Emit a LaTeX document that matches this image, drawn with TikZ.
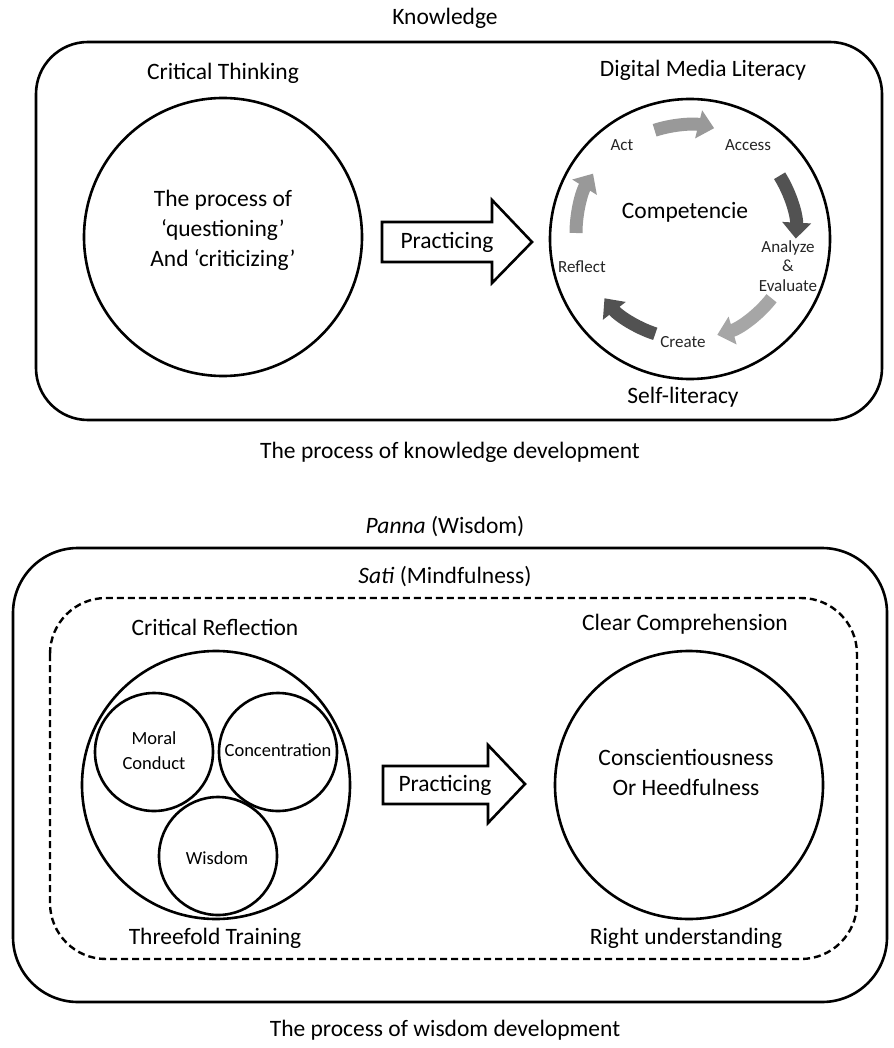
\documentclass[tikz,border=0pt]{standalone}
\usepackage{fontspec}
\setmainfont{Carlito}
\usetikzlibrary{arrows.meta,calc}
\begin{document}
\begin{tikzpicture}[x=1pt,y=-1pt,
  boxline/.style={line width=2.6pt},
  ring/.style={draw, line width=2.6pt, circle, inner sep=0pt, minimum size=#1},
  lbl/.style={font=\fontsize{23.5}{30}\selectfont, align=center, inner sep=0pt},
  smalllbl/.style={font=\fontsize{18.5}{25}\selectfont, align=center, inner sep=0pt},
  cyclbl/.style={font=\fontsize{17}{19.5}\selectfont, align=center, inner sep=0pt, text=black!85},
  flow/.style={line width=13pt, -{Triangle[width=28pt,length=16pt]}},
  bigarrow/.style={draw, line width=2.6pt, fill=white, line join=miter}
]
% canvas
\fill[white] (0,0) rectangle (893,1048);

% ---------------- knowledge development ----------------
\node[lbl] (know) at (445,18) {Knowledge};
\draw[boxline, rounded corners=52pt] (36,42) rectangle (882,420);

\node[lbl] (ctitle) at (223,73) {Critical Thinking};
\node[ring=278pt] (ct) at (223,237) {};
\node[lbl] (cttext) at (223,230) {The process of\\‘questioning’\\And ‘criticizing’};

\draw[bigarrow] (382,222) -- (492,222) -- (492,200) -- (532,242) -- (492,283) -- (492,262) -- (382,262) -- cycle;
\node[lbl] (prac1) at (447,242) {Practicing};

\node[lbl] (dtitle) at (703,70) {Digital Media Literacy};
\node[ring=280pt] (dml) at (690,239) {};
\node[lbl] (slit) at (683,397) {Self-literacy};

% competence cycle
\coordinate (cyc) at (688,233);
\draw[flow, black!40] ($(cyc)+(-108:108)$) arc[start angle=-108, end angle=-76, radius=108];
\draw[flow, black!68] ($(cyc)+(-32:108)$) arc[start angle=-32, end angle=3, radius=108];
\draw[flow, black!35] ($(cyc)+(38:106)$) arc[start angle=38, end angle=74, radius=106];
\draw[flow, black!68] ($(cyc)+(108:106)$) arc[start angle=108, end angle=142, radius=106];
\draw[flow, black!40] ($(cyc)+(180:112)$) arc[start angle=180, end angle=212, radius=112];

\node[lbl] (comp) at (685,212) {Competencie};
\node[cyclbl] (act) at (622,145) {Act};
\node[cyclbl] (access) at (748,145) {Access};
\node[cyclbl] (analyze) at (788,266) {Analyze\\\&\\Evaluate};
\node[cyclbl] (create) at (683,342) {Create};
\node[cyclbl] (reflect) at (582,267) {Reflect};

\node[lbl] (kcap) at (450,452) {The process of knowledge development};

% ---------------- wisdom development ----------------
\node[lbl] (panna) at (445,527) {\textit{Panna} (Wisdom)};
\draw[boxline, rounded corners=65pt] (13,548) rectangle (887,1002);
\node[lbl] (sati) at (445,577) {\textit{Sati} (Mindfulness)};
\draw[line width=2.4pt, dash pattern=on 7pt off 4pt, rounded corners=56pt] (50,598) rectangle (857,959);

\node[lbl] (crtitle) at (215,627) {Critical Reflection};
\node[ring=268pt] (three) at (216,785) {};
\node[ring=118pt] (moral) at (154,752) {};
\node[smalllbl] (moraltxt) at (154,751) {Moral\\Conduct};
\node[ring=118pt] (conc) at (278,752) {};
\node[smalllbl] (conctxt) at (278,750) {Concentration};
\node[ring=118pt] (wis) at (218,856) {};
\node[smalllbl] (wistxt) at (217,858) {Wisdom};
\node[lbl] (ttrain) at (215,938) {Threefold Training};

\draw[bigarrow] (383,766) -- (488,766) -- (488,745) -- (525,784) -- (488,823) -- (488,804) -- (383,804) -- cycle;
\node[lbl] (prac2) at (445,785) {Practicing};

\node[lbl] (cctitle) at (685,624) {Clear Comprehension};
\node[ring=268pt] (consc) at (689,785) {};
\node[lbl] (consctxt) at (686,772) {Conscientiousness\\Or Heedfulness};
\node[lbl] (rund) at (686,938) {Right understanding};

\node[lbl] (wcap) at (445,1030) {The process of wisdom development};
\end{tikzpicture}
\end{document}
